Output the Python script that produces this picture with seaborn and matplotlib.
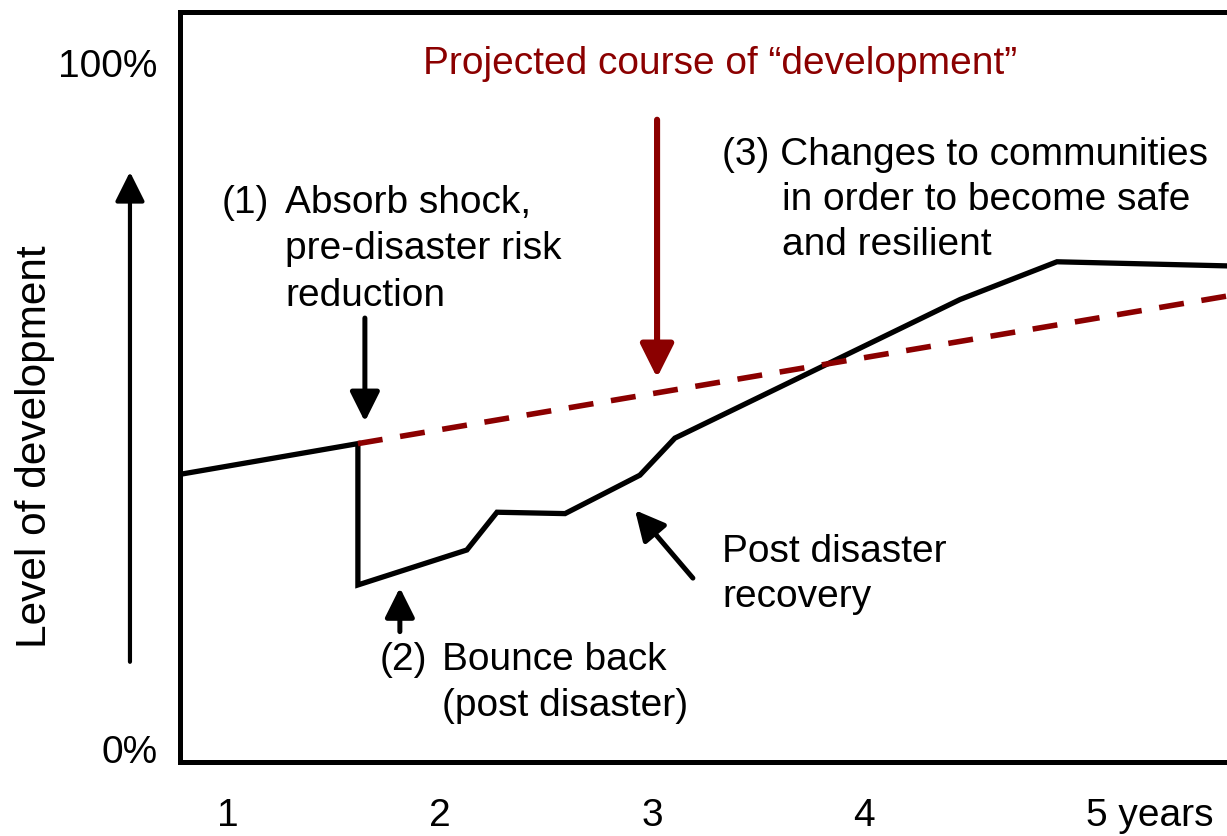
import matplotlib
matplotlib.use("Agg")
import matplotlib.pyplot as plt
import matplotlib.transforms as mtransforms
import seaborn as sns

years = [0.77, 1.613, 1.613, 2.127, 2.269, 2.590, 2.943, 3.108, 4.453, 4.910, 5.712]
level = [40.0, 44.5, 23.9, 29.0, 34.5, 34.3, 39.9, 45.3, 65.5, 71.0, 70.4]

# projected course (dashed)
proj_years = [1.613, 5.712]
proj_level = [44.5, 66.0]

xtick_pos = [1, 2, 3, 4, 5]
xtick_labels = ["1", "2", "3", "4", "5 years"]
ytick_pos = [0, 100]
ytick_labels = ["0%", "100%"]

DARK_RED = "#8B0000"
FS = 28

sns.set_style("white")
plt.rcParams["font.family"] = ["Liberation Sans", "DejaVu Sans"]

fig = plt.figure(figsize=(12.27, 8.36), dpi=100)
ax = fig.add_axes([180 / 1227, 74 / 836, 1 - 180 / 1227, 750 / 836])

sns.lineplot(x=years, y=level, sort=False, estimator=None, color="black",
             lw=3.8, ax=ax, solid_joinstyle="miter")
sns.lineplot(x=proj_years, y=proj_level, sort=False, estimator=None, color=DARK_RED,
             lw=4.0, ax=ax, linestyle=(0, (4.5, 3.2)))

ax.set_xlim(0.774, 5.712)
ax.set_ylim(-1.9, 107.4)

for side in ["left", "top", "bottom"]:
    ax.spines[side].set_linewidth(3.6)
    ax.spines[side].set_color("black")
ax.spines["right"].set_visible(False)

ax.set_xticks(xtick_pos)
ax.set_xticklabels(xtick_labels, fontsize=FS, color="black")
ax.set_yticks(ytick_pos)
ax.set_yticklabels(ytick_labels, fontsize=FS, color="black")
ax.tick_params(axis="x", length=0, pad=26)
ax.tick_params(axis="y", length=0, pad=16)
last = ax.get_xticklabels()[-1]
last.set_horizontalalignment("left")
last.set_transform(last.get_transform() + mtransforms.ScaledTranslation(10 / 100, 0, fig.dpi_scale_trans))

ax.set_ylabel("Level of development", fontsize=30.5, color="black")
ax.yaxis.set_label_coords(-125 / 1047, 0.42)

# text blocks
ax.text(3.321, 98.3, "Projected course of \u201cdevelopment\u201d", color=DARK_RED,
        fontsize=FS, ha="center", va="baseline")

labels = [
    (0.972, 78.1, "(1)"),
    (1.269, 78.1, "Absorb shock,"),
    (1.269, 71.4, "pre-disaster risk"),
    (1.269, 64.6, "reduction"),
    (1.717, 11.5, "(2)"),
    (2.009, 11.5, "Bounce back"),
    (2.009, 4.8, "(post disaster)"),
    (3.330, 85.1, "(3) Changes to communities"),
    (3.613, 78.6, "in order to become safe"),
    (3.613, 72.0, "and resilient"),
    (3.330, 27.3, "Post disaster"),
    (3.330, 20.7, "recovery"),
]
for x, y, s in labels:
    ax.text(x, y, s, fontsize=FS, ha="left", va="baseline", color="black")

# arrows
def arrow(start, end, color="black", lw=3.6, scale=30):
    ax.annotate("", xy=end, xytext=start, annotation_clip=False,
                arrowprops=dict(arrowstyle="-|>,head_length=0.6,head_width=0.3",
                                color=color, lw=lw, mutation_scale=scale,
                                shrinkA=0, shrinkB=0))

arrow((1.646, 62.8), (1.646, 47.7))
arrow((1.811, 17.1), (1.811, 23.5))
arrow((3.024, 91.7), (3.024, 54.1), color=DARK_RED, lw=4.4, scale=34)
arrow((3.193, 24.9), (2.920, 34.8))
arrow((0.538, 12.7), (0.538, 84.1), lw=3.0)

fig.savefig("out.png", dpi=100)
